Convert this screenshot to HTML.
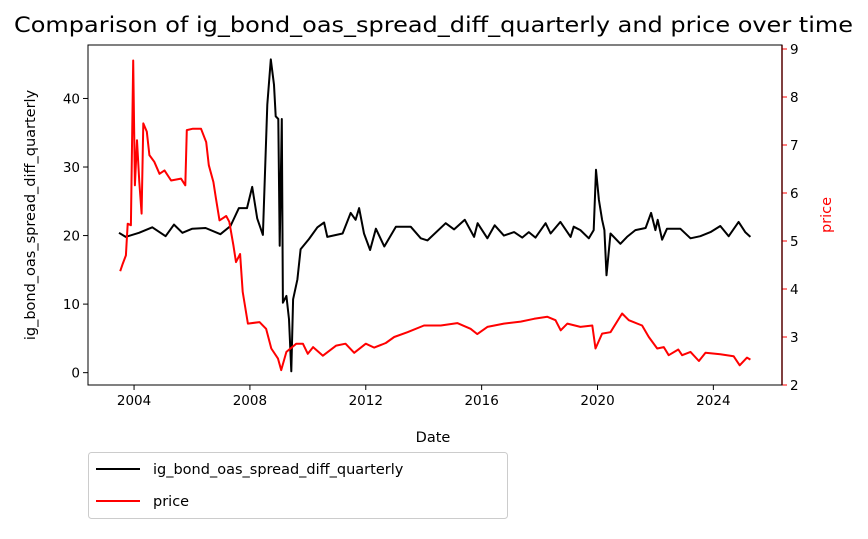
<!DOCTYPE html>
<html><head><meta charset="utf-8"><style>
body{margin:0;background:#fff;}
svg{font-family:"DejaVu Sans","Liberation Sans",sans-serif;}
</style></head><body>
<svg id="c" width="868" height="534" viewBox="0 0 868 534" xmlns="http://www.w3.org/2000/svg">
<text x="14" y="32" font-size="21" textLength="839" lengthAdjust="spacingAndGlyphs">Comparison of ig_bond_oas_spread_diff_quarterly and price over time</text>
<g id="plot"></g>
<rect x="88" y="45" width="694" height="340" fill="none" stroke="#000" stroke-width="1"/>
<text x="433" y="442" text-anchor="middle" font-size="14.5">Date</text>
<text transform="translate(35,215) rotate(-90)" text-anchor="middle" font-size="14.5">ig_bond_oas_spread_diff_quarterly</text>
<text transform="translate(831,215) rotate(-90)" text-anchor="middle" font-size="14.5" fill="red">price</text>
<g>
<rect x="88.5" y="452.5" width="419" height="66" rx="3" fill="#fff" stroke="#ccc"/>
<line x1="96" y1="469" x2="140" y2="469" stroke="#000" stroke-width="2"/>
<text x="153" y="474" font-size="14.5">ig_bond_oas_spread_diff_quarterly</text>
<line x1="96" y1="501" x2="140" y2="501" stroke="red" stroke-width="2"/>
<text x="153" y="506" font-size="14.5">price</text>
</g>
</svg>
<script>
const spreadYears=[2003.48,2003.71,2004.17,2004.63,2005.09,2005.38,2005.67,2006.01,2006.47,2006.98,2007.33,2007.62,2007.90,2008.08,2008.25,2008.45,2008.60,2008.72,2008.83,2008.89,2008.98,2009.03,2009.10,2009.14,2009.26,2009.35,2009.43,2009.49,2009.64,2009.75,2010.04,2010.33,2010.56,2010.67,2011.2,2011.48,2011.65,2011.77,2011.94,2012.15,2012.35,2012.64,2013.04,2013.55,2013.90,2014.13,2014.76,2015.05,2015.42,2015.74,2015.86,2016.20,2016.45,2016.77,2017.12,2017.40,2017.63,2017.86,2018.21,2018.38,2018.72,2019.07,2019.18,2019.41,2019.70,2019.87,2019.95,2020.05,2020.16,2020.24,2020.31,2020.45,2020.79,2021.02,2021.31,2021.66,2021.85,2022.0,2022.08,2022.23,2022.40,2022.86,2023.21,2023.55,2023.90,2024.24,2024.53,2024.87,2025.10,2025.28];
const spreadValues=[20.4,19.8,20.4,21.2,19.9,21.6,20.4,21.0,21.1,20.2,21.4,24.0,24.0,27.1,22.5,20.1,39.1,45.7,42,37.4,37,18.5,37,10.2,11.2,7.8,0.2,10.7,13.6,18,19.5,21.2,21.9,19.8,20.3,23.3,22.3,24.0,20.3,17.9,21.0,18.4,21.3,21.3,19.6,19.3,21.8,20.9,22.3,19.8,21.8,19.6,21.5,20.0,20.5,19.7,20.5,19.7,21.8,20.3,22.0,19.8,21.3,20.8,19.6,20.8,29.6,25.2,22.3,20.8,14.2,20.3,18.8,19.8,20.8,21.1,23.3,20.8,22.3,19.4,21.0,21.0,19.6,19.9,20.5,21.4,19.9,22.0,20.5,19.8];
const priceYears=[2003.52,2003.61,2003.72,2003.78,2003.89,2003.97,2004.03,2004.10,2004.18,2004.26,2004.32,2004.44,2004.53,2004.70,2004.88,2005.05,2005.28,2005.62,2005.77,2005.82,2006.03,2006.31,2006.49,2006.58,2006.74,2006.83,2006.95,2007.18,2007.29,2007.43,2007.52,2007.66,2007.75,2007.93,2008.33,2008.56,2008.74,2008.97,2009.08,2009.26,2009.60,2009.83,2010.0,2010.18,2010.52,2010.98,2011.30,2011.60,2012.0,2012.29,2012.69,2012.98,2013.44,2014.01,2014.59,2015.16,2015.62,2015.85,2016.20,2016.77,2017.35,2017.81,2018.27,2018.55,2018.73,2018.96,2019.41,2019.82,2019.93,2020.16,2020.45,2020.85,2021.08,2021.54,2021.77,2022.06,2022.29,2022.46,2022.79,2022.92,2023.21,2023.50,2023.73,2024.24,2024.70,2024.91,2025.16,2025.28];
const priceValues=[4.37,4.53,4.70,5.36,5.33,8.76,6.16,7.10,6.23,5.57,7.45,7.28,6.79,6.65,6.40,6.47,6.26,6.30,6.16,7.31,7.34,7.34,7.06,6.58,6.23,5.88,5.43,5.52,5.40,4.91,4.56,4.73,3.94,3.28,3.31,3.17,2.76,2.55,2.31,2.69,2.86,2.86,2.65,2.79,2.61,2.82,2.86,2.67,2.86,2.78,2.875,3.0,3.10,3.24,3.24,3.29,3.17,3.06,3.21,3.28,3.32,3.38,3.42,3.35,3.14,3.28,3.21,3.24,2.76,3.07,3.10,3.49,3.35,3.24,3.0,2.76,2.79,2.62,2.74,2.62,2.69,2.50,2.67,2.64,2.60,2.41,2.57,2.53];
const xTicks=[2004,2008,2012,2016,2020,2024];
const leftTicks=[0,10,20,30,40];
const rightTicks=[2,3,4,5,6,7,8,9];

const L=88,R=782,T=45,B=385;
const xMin=2002.41,xMax=2026.37;
const lMin=-1.8,lMax=47.8;
const rMin=2.0,rMax=2+340/48;
const xs=v=>L+(v-xMin)/(xMax-xMin)*(R-L);
const yl=v=>B-(v-lMin)/(lMax-lMin)*(B-T);
const yr=v=>B-(v-rMin)/(rMax-rMin)*(B-T);
const NS='http://www.w3.org/2000/svg';
const g=document.getElementById('plot');
function mk(tag,attrs){const e=document.createElementNS(NS,tag);for(const k in attrs)e.setAttribute(k,attrs[k]);g.appendChild(e);return e;}

xTicks.forEach(t=>{
  const x=xs(t);
  const tk=mk('line',{x1:x,y1:B,x2:x,y2:B+5,stroke:'#000'});
  
  
  const lb=mk('text',{x:x,y:B+20,'text-anchor':'middle','font-size':13.5});
  lb.textContent=t;
  
  
});
leftTicks.forEach(t=>{
  const y=yl(t);
  const tk=mk('line',{x1:L-5,y1:y,x2:L,y2:y,stroke:'#000'});
  
  
  const lb=mk('text',{x:L-8,y:y+5,'text-anchor':'end','font-size':13.5});
  lb.textContent=t;
  
  
});
const ra=mk('line',{x1:R,y1:T,x2:R,y2:B,stroke:'red','stroke-width':1.5});


rightTicks.forEach(t=>{
  const y=yr(t);
  const tk=mk('line',{x1:R,y1:y,x2:R+5,y2:y,stroke:'red'});
  
  
  const lb=mk('text',{x:R+8,y:y+5,'font-size':13.5});
  lb.textContent=t;
  
  
});
const pts1=spreadYears.map((d,i)=>xs(d).toFixed(1)+','+yl(spreadValues[i]).toFixed(1)).join(' ');
const s1=mk('polyline',{points:pts1,fill:'none',stroke:'#000','stroke-width':2,'stroke-linejoin':'round'});


const pts2=priceYears.map((d,i)=>xs(d).toFixed(1)+','+yr(priceValues[i]).toFixed(1)).join(' ');
const s2=mk('polyline',{points:pts2,fill:'none',stroke:'red','stroke-width':2,'stroke-linejoin':'round'});


</script>
</body></html>
